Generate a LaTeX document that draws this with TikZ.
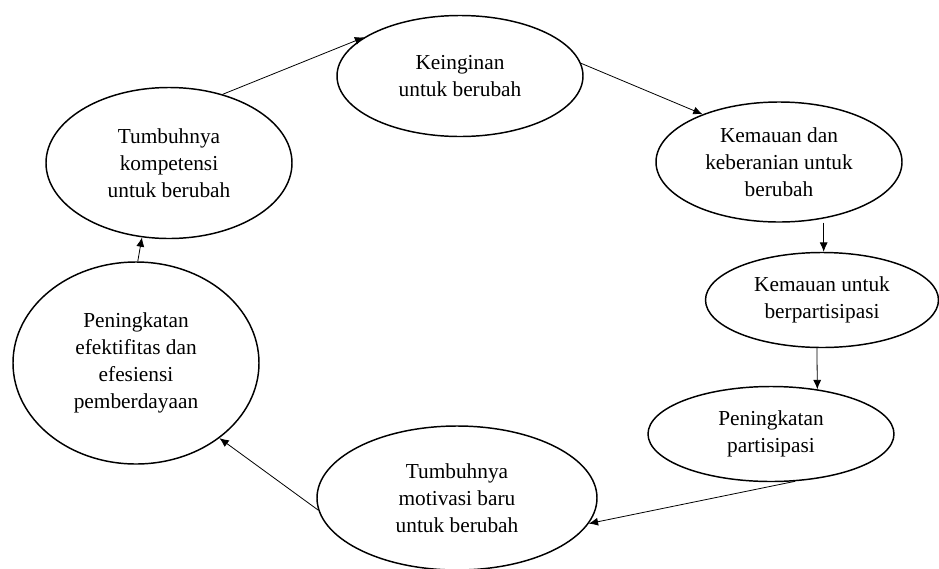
\documentclass[tikz,border=0pt]{standalone}
\usepackage{fontspec}
\setmainfont{Liberation Serif}
\usetikzlibrary{shapes.geometric,arrows.meta}

\begin{document}
\begin{tikzpicture}[x=0.75pt,y=-0.75pt,>={Latex[length=7pt,width=6pt]},
  bubble/.style={ellipse,draw,line width=1.1pt,inner sep=0pt,align=center,
    font=\fontsize{16}{20.3}\selectfont},
  link/.style={->,line width=0.6pt}]
\useasboundingbox (0,0) rectangle (939,568);
\node[bubble,minimum width=184.5pt,minimum height=90.75pt] (keinginan) at (460,76) {Keinginan\\untuk berubah};
\node[bubble,minimum width=184.5pt,minimum height=90pt] (keberanian) at (779,162) {Kemauan dan\\keberanian untuk\\berubah};
\node[bubble,minimum width=174.75pt,minimum height=71.25pt] (berpartisipasi) at (822,300) {Kemauan untuk\\berpartisipasi};
\node[bubble,minimum width=184.5pt,minimum height=71.25pt] (partisipasi) at (771,434) {Peningkatan\\partisipasi};
\node[bubble,minimum width=210pt,minimum height=108pt] (motivasi) at (457,498) {Tumbuhnya\\motivasi baru\\untuk berubah};
\node[bubble,minimum width=184.5pt,minimum height=151.5pt] (efektifitas) at (136,363) {Peningkatan\\efektifitas dan\\efesiensi\\pemberdayaan};
\node[bubble,minimum width=184.5pt,minimum height=113.25pt] (kompetensi) at (169,163) {Tumbuhnya\\kompetensi\\untuk berubah};
\draw[link] (kompetensi.52) -- (keinginan.158);
\draw[link] (keinginan.6) -- (keberanian.148);
\draw[link] (keberanian.south -| berpartisipasi.88) -- (berpartisipasi.88);
\draw[link] (berpartisipasi.-96) -- (partisipasi.44);
\draw[link] (partisipasi.-63) -- (motivasi.-11);
\draw[link] (motivasi.185) -- (efektifitas.-42);
\draw[link] (efektifitas.89) -- (kompetensi.-110);
\end{tikzpicture}
\end{document}
